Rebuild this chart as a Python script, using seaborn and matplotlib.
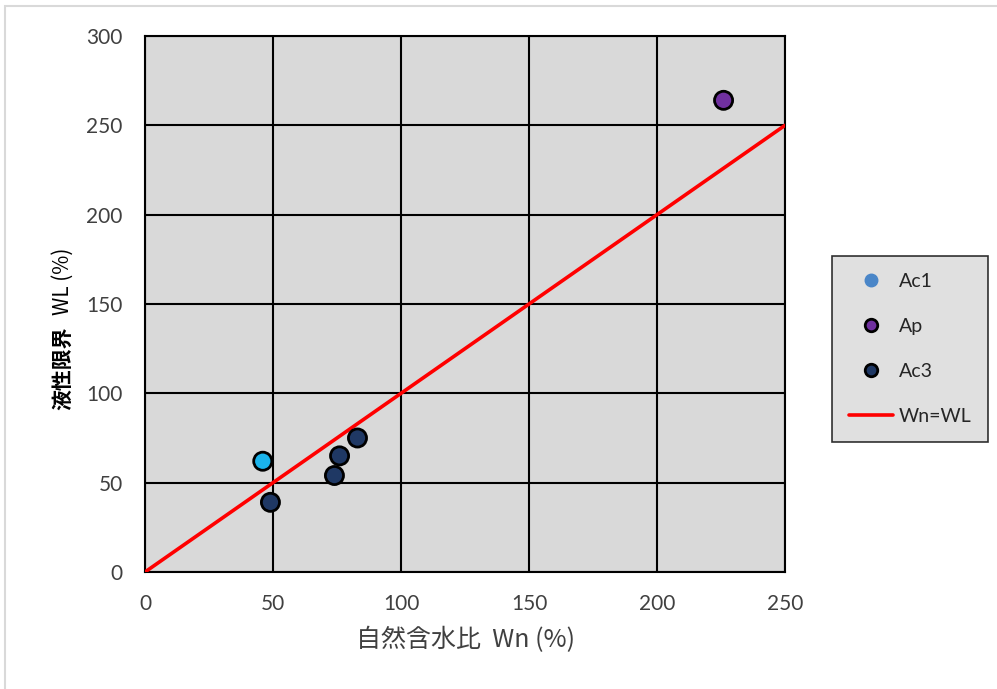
import numpy as np
import pandas as pd
import matplotlib
matplotlib.use("Agg")
import matplotlib.pyplot as plt
import seaborn as sns
from matplotlib.lines import Line2D
from matplotlib.patches import Rectangle

# values
ac1_wn = [46]
ac1_wl = [62]
ap_wn = [226]
ap_wl = [264]
ac3_wn = [49, 74, 76, 83]
ac3_wl = [39, 54, 65, 75]
line_x = [0, 250]
line_y = [0, 250]

sns.set_theme(style="white")
plt.rcParams['font.family'] = ['Lato', 'Noto Sans CJK JP', 'DejaVu Sans']

df = pd.DataFrame({
    'wn': ac1_wn + ap_wn + ac3_wn,
    'wl': ac1_wl + ap_wl + ac3_wl,
    'layer': ['Ac1'] * len(ac1_wn) + ['Ap'] * len(ap_wn) + ['Ac3'] * len(ac3_wn),
})
colors = {'Ac1': '#1ab4ec', 'Ap': '#7030a0', 'Ac3': '#1f3864'}

fig = plt.figure(figsize=(9.97, 6.89), dpi=100)
fig.patches.append(Rectangle((5 / 997, -0.1), 1.2, 1.1 - 6 / 689, transform=fig.transFigure,
                             fill=False, edgecolor='#d9d9d9', linewidth=1.5))
ax = fig.add_axes([145 / 997, 1 - 572 / 689, 640 / 997, 536 / 689])
ax.set_facecolor('#d9d9d9')

ax.plot(line_x, line_y, color='#ff0000', linewidth=2.6, zorder=3)
sns.scatterplot(data=df, x='wn', y='wl', hue='layer', palette=colors, s=170,
                edgecolor='black', linewidth=2, legend=False, zorder=4, ax=ax)

ax.set_xlim(0, 250)
ax.set_ylim(0, 300)
ax.set_xticks(np.arange(0, 251, 50))
ax.set_yticks(np.arange(0, 301, 50))
ax.grid(True, color='black', linewidth=1.5)
ax.set_axisbelow(True)
for sp in ax.spines.values():
    sp.set_color('black')
    sp.set_linewidth(1.5)
ax.tick_params(axis='both', length=0, labelsize=15, labelcolor='#404040')
ax.tick_params(axis='x', pad=16)
ax.tick_params(axis='y', pad=16)

ax.set_xlabel('自然含水比  Wn (%)', fontsize=18, color='#404040', labelpad=9,
              family=['Noto Sans CJK JP', 'DejaVu Sans'])
ax.set_ylabel('')
fig.text(63 / 997, 1 - 368 / 689, '液性限界', rotation=90, ha='center', va='center',
         fontsize=15, fontweight='bold', color='black', family=['Noto Sans CJK JP'])
fig.text(63 / 997, 1 - 281 / 689, 'WL (%)', rotation=90, ha='center', va='center',
         fontsize=15, color='black', family=['Noto Sans CJK JP'])

handles = [
    Line2D([], [], marker='o', linestyle='', markersize=9, markerfacecolor='#4a86c8',
           markeredgecolor='#4a86c8', label='Ac1'),
    Line2D([], [], marker='o', linestyle='', markersize=9, markerfacecolor=colors['Ap'],
           markeredgecolor='black', markeredgewidth=2, label='Ap'),
    Line2D([], [], marker='o', linestyle='', markersize=9, markerfacecolor=colors['Ac3'],
           markeredgecolor='black', markeredgewidth=2, label='Ac3'),
    Line2D([], [], color='#ff0000', linewidth=2.6, label='Wn=WL'),
]
leg = fig.legend(handles=handles, loc='center left', bbox_to_anchor=(832 / 997, 1 - 349 / 689),
                 frameon=True, fancybox=False, fontsize=14, labelspacing=1.45,
                 handlelength=2.3, handletextpad=0.3, borderpad=0.85, borderaxespad=0)
leg.get_frame().set_facecolor('#d9d9d9')
leg.get_frame().set_edgecolor('black')
leg.get_frame().set_linewidth(1.2)
for t in leg.get_texts():
    t.set_color('#262626')

fig.savefig('out.png', dpi=100, facecolor='white')
